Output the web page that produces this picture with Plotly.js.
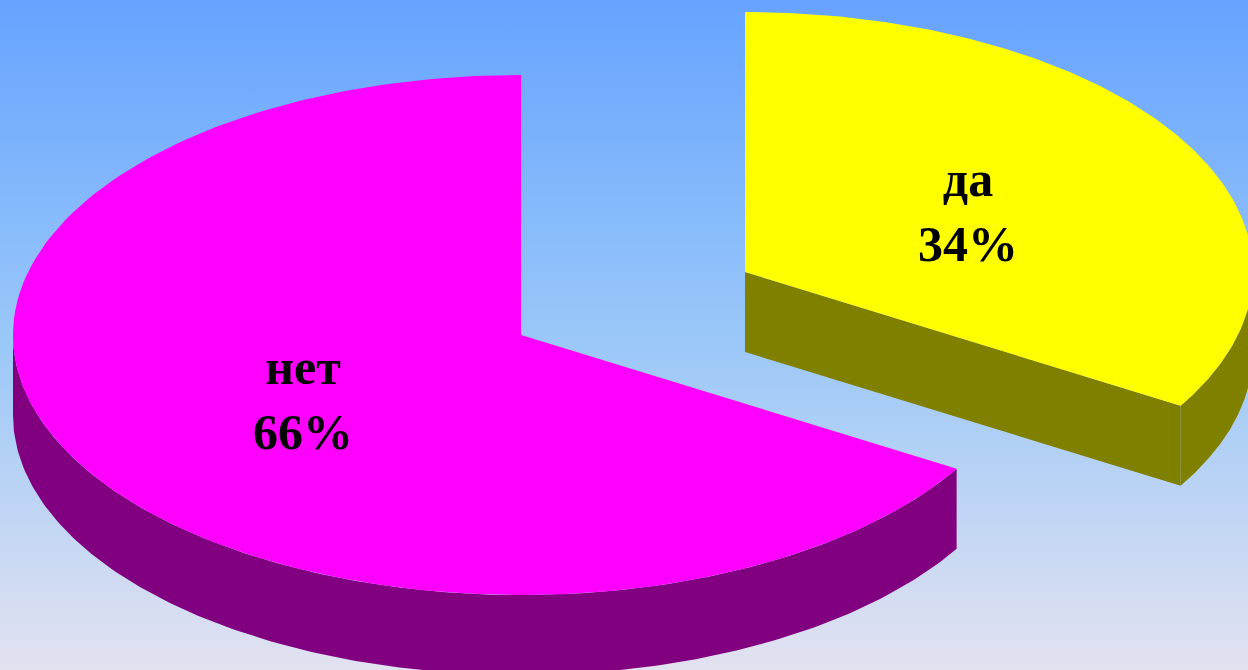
<!DOCTYPE html>
<html><head><meta charset="utf-8">
<script src="https://cdn.plot.ly/plotly-3.0.1.min.js"></script>
<style>html,body{margin:0;padding:0;width:1248px;height:670px;overflow:hidden;background:linear-gradient(to bottom,#66a3ff 0%,#99c7f8 50%,#e2e2f0 100%);}#c{width:1248px;height:670px;}</style>
</head><body><div id="c"></div>
<script>
const categories = ["да", "нет"];
const shares = [33.6, 66.4];
const percentLabels = ["34%", "66%"];

const topColors = ["#ffff00", "#ff00ff"];
const sideColors = ["#808000", "#800080"];
const centers = [[745, 272], [521, 335]];
const labelPos = [[968, 216], [303, 404]];
const RX = 508, RY = 260, DEPTH = 80, STEPS = 180;

function pt(c, deg, d) {
  const a = deg * Math.PI / 180;
  return [c[0] + RX * Math.sin(a), c[1] - RY * Math.cos(a) + d];
}
function arc(c, from, to, d) {
  const out = [];
  for (let i = 0; i <= STEPS; i++) out.push(pt(c, from + (to - from) * i / STEPS, d));
  return out;
}
function poly(points, color) {
  return {type: "scatter", mode: "lines", x: points.map(p => p[0]), y: points.map(p => p[1]),
    fill: "toself", fillcolor: color, line: {width: 0, color: color}, hoverinfo: "skip", showlegend: false};
}
const total = shares.reduce((a, b) => a + b, 0);
const split = shares[0] / total * 360;
const traces = [];

// "нет" wedge: wall along the front, then the top
const cN = centers[1];
traces.push(poly(arc(cN, split, 270, 0).concat(arc(cN, 270, split, DEPTH)), sideColors[1]));
traces.push(poly([cN].concat(arc(cN, split, 360, 0)), topColors[1]));

// "да" wedge: outer wall, cut face, then the top
const cD = centers[0];
traces.push(poly(arc(cD, 90, split, 0).concat(arc(cD, split, 90, DEPTH)), sideColors[0]));
traces.push(poly([cD, pt(cD, split, 0), pt(cD, split, DEPTH), [cD[0], cD[1] + DEPTH]], sideColors[0]));
traces.push(poly([cD].concat(arc(cD, 0, split, 0)), topColors[0]));

// Labels
traces.push({type: "scatter", mode: "text",
  x: labelPos.map(p => p[0]), y: labelPos.map(p => p[1]),
  text: categories.map((c, i) => c + "<br>" + percentLabels[i]),
  textposition: "middle center",
  textfont: {family: "Liberation Serif", size: 50, color: "#000000", weight: 700},
  hoverinfo: "skip", showlegend: false});

const axis = {visible: false, fixedrange: true, autorange: false};
Plotly.newPlot("c", traces, {
  width: 1248, height: 670, margin: {l: 0, r: 0, t: 0, b: 0},
  paper_bgcolor: "rgba(0,0,0,0)", plot_bgcolor: "rgba(0,0,0,0)",
  xaxis: Object.assign({range: [0, 1248]}, axis),
  yaxis: Object.assign({range: [670, 0]}, axis)
}, {displayModeBar: false, staticPlot: true});
</script></body></html>
